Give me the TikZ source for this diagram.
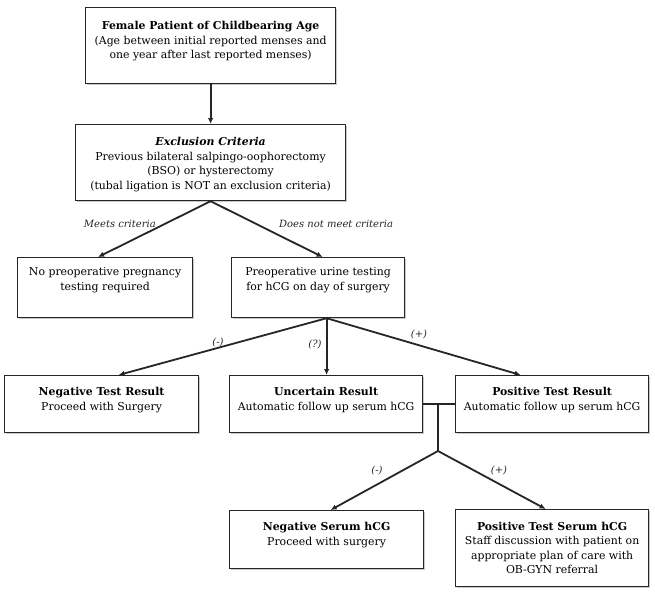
\documentclass[tikz,border=0pt]{standalone}
\usepackage{fontspec}
\setmainfont{DejaVu Serif}
\usetikzlibrary{shadows,arrows.meta}
\newcommand\bxt[4]{\parbox[c][#2pt][t]{#1pt}{\centering\vspace*{#3pt}#4\par}}
\begin{document}
\begin{tikzpicture}[x=1pt,y=-1pt,
  box/.style={draw=black!85,line width=1.2pt,fill=white,inner sep=0pt,anchor=north west,
    font=\fontsize{10.9}{14.5}\selectfont,
    drop shadow={shadow xshift=1.6pt,shadow yshift=-1.6pt,fill=black!35,opacity=0.6}},
  arr/.style={line width=1.8pt,draw=black!85,-{Latex[length=6pt,width=5.5pt]}},
  conn/.style={line width=1.8pt,draw=black!85},
  lab/.style={font=\fontsize{10}{12}\itshape,text=black!85,inner sep=1pt}]
\useasboundingbox (0,0) rectangle (655,594);
\fill[white] (0,0) rectangle (655,594);
\node[box] (b1) at (85,7) {\bxt{250}{76}{13.8}{\textbf{Female Patient of Childbearing Age}\\(Age between initial reported menses and\\one year after last reported menses)}};
\node[box] (b2) at (75,124) {\bxt{270}{76}{12.8}{\textbf{\textit{Exclusion Criteria}}\\Previous bilateral salpingo-oophorectomy\\(BSO) or hysterectomy\\(tubal ligation is NOT an exclusion criteria)}};
\node[box] (b3) at (17,257) {\bxt{175}{60}{10.3}{No preoperative pregnancy\\testing required}};
\node[box] (b4) at (231,257) {\bxt{173}{60}{10.3}{Preoperative urine testing\\for hCG on day of surgery}};
\node[box] (b5) at (4,375) {\bxt{194}{57}{11.8}{\textbf{Negative Test Result}\\Proceed with Surgery}};
\node[box] (b6) at (229,375) {\bxt{193}{57}{11.8}{\textbf{Uncertain Result}\\Automatic follow up serum hCG}};
\node[box] (b7) at (455,375) {\bxt{193}{57}{11.8}{\textbf{Positive Test Result}\\Automatic follow up serum hCG}};
\node[box] (b8) at (229,510) {\bxt{194}{58}{11.8}{\textbf{Negative Serum hCG}\\Proceed with surgery}};
\node[box] (b9) at (455,509) {\bxt{193}{77}{12.3}{\textbf{Positive Test Serum hCG}\\Staff discussion with patient on\\appropriate plan of care with\\OB-GYN referral}};
\draw[arr] (b1.south) -- (b2.north);
\draw[arr] (b2.south) -- ([xshift=-7pt]b3.north);
\draw[arr] (b2.south) -- ([xshift=4.5pt]b4.north);
\draw[arr] ([xshift=8.5pt]b4.south) -- ([xshift=17pt]b5.north);
\draw[arr] ([xshift=8.5pt]b4.south) -- ([xshift=0.5pt]b6.north);
\draw[arr] ([xshift=8.5pt]b4.south) -- ([xshift=-31.5pt]b7.north);
\coordinate (j1) at (438,404);
\coordinate (j2) at (438,451);
\draw[conn] (b6.east) -- (b7.west);
\draw[conn] (j1) -- (j2);
\draw[arr] (j2) -- ([xshift=4pt]b8.north);
\draw[arr] (j2) -- ([xshift=-6.5pt]b9.north);
\node[lab,anchor=east] (l1) at (157,224) {Meets criteria};
\node[lab,anchor=west] (l2) at (278,224) {Does not meet criteria};
\node[lab] (l3) at (218,342) {(-)};
\node[lab] (l4) at (315,344) {(?)};
\node[lab] (l5) at (419,334) {(+)};
\node[lab] (l6) at (377,470) {(-)};
\node[lab] (l7) at (499,470) {(+)};
\end{tikzpicture}
\end{document}
